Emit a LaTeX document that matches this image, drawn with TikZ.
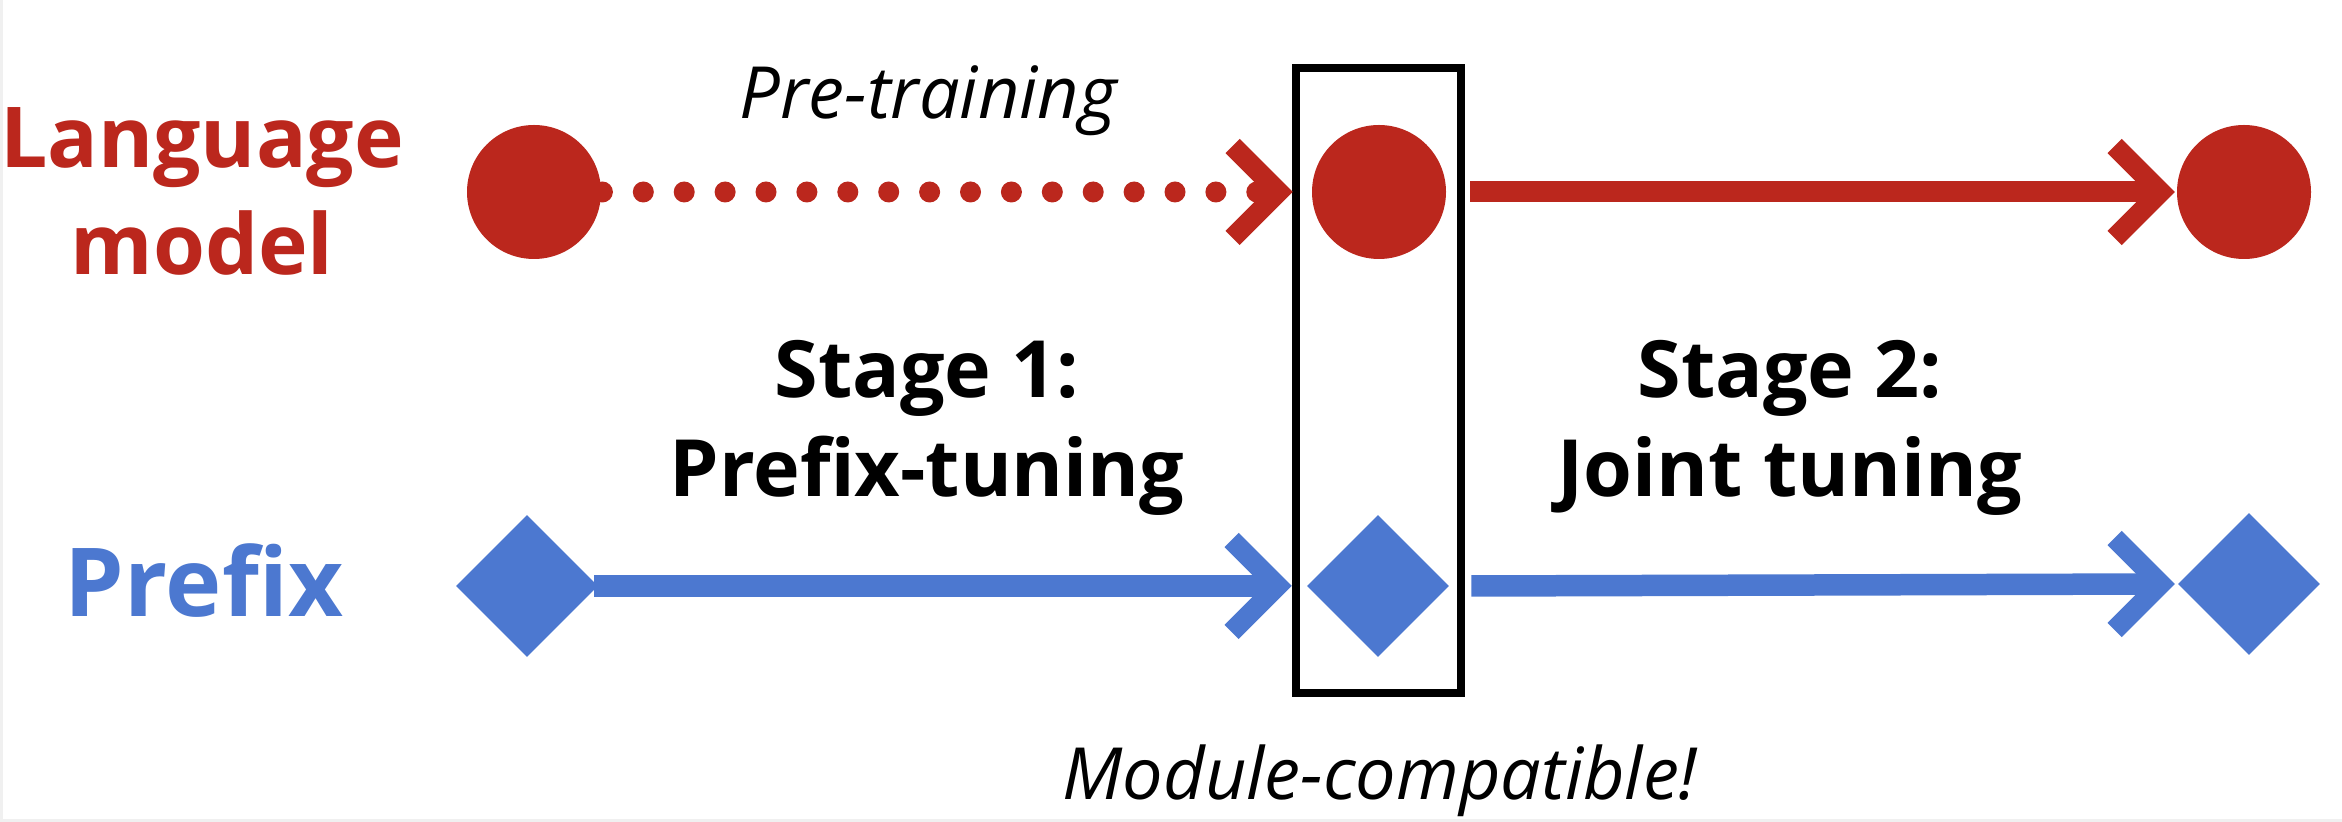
\documentclass[tikz,border=0pt]{standalone}
\usepackage{fontspec}
\setmainfont{Open Sans}
\usetikzlibrary{shapes.geometric}
\definecolor{lmred}{HTML}{BB271D}
\definecolor{pblue}{HTML}{4C78D0}
\definecolor{edgegray}{HTML}{F0F0F0}
\begin{document}
\begin{tikzpicture}[x=0.5pt,y=-0.5pt,
  lmnode/.style={circle, fill=lmred, inner sep=0pt, minimum size=67pt},
  pnode/.style={diamond, fill=pblue, inner sep=0pt, minimum width=71pt, minimum height=71pt},
  redline/.style={draw=lmred, line width=10.5pt},
  blueline/.style={draw=pblue, line width=10.75pt},
  dotline/.style={draw=lmred, line width=10.5pt, line cap=round, dash pattern=on 0pt off 20.45pt},
  chev/.style={line width=10pt, line join=miter, line cap=butt},
  framebox/.style={draw=black, line width=4pt, inner sep=0pt, minimum width=82.5pt, minimum height=312.75pt},
  boldlbl/.style={font=\bfseries\fontsize{39.5pt}{49.5pt}\selectfont, align=center, anchor=base},
  itlbl/.style={font=\itshape\fontsize{36pt}{44pt}\selectfont, anchor=base}
]
\fill[edgegray] (0,0) rectangle (2342,822);
\fill[white] (3,0) rectangle (2342,819);
\useasboundingbox (0,0) rectangle (2342,822);

% nodes
\node[lmnode] (lm1) at (534,192) {};
\node[lmnode] (lm2) at (1379,192) {};
\node[lmnode] (lm3) at (2244,192) {};
\node[pnode] (p1) at (527,586) {};
\node[pnode] (p2) at (1378,586) {};
\node[pnode] (p3) at (2249,584) {};
\node[framebox] (box) at (1378.5,380.75) {};

% labels (base anchor = baseline of last line)
\node[font=\bfseries\fontsize{42pt}{53.5pt}\selectfont, text=lmred, align=center, anchor=base] (lmlabel) at (202,275) {Language\\model};
\node[font=\bfseries\fontsize{47.6pt}{57pt}\selectfont, text=pblue, anchor=base] (plabel) at (204,617) {Prefix};
\node[itlbl] (pretrain) at (928,119) {Pre-training};
\node[boldlbl] (stage1) at (927,497) {Stage 1:\\Prefix-tuning};
\node[boldlbl] (stage2) at (1790,497) {Stage 2:\\Joint tuning};
\node[itlbl] (modcomp) at (1380,800) {Module-compatible!};

% red connectors
\draw[dotline] ([shift={(1,0)}]lm1.east) -- ([shift={(-36,0)}]lm2.west);
\draw[chev, draw=lmred] ([shift={(-79,-46)}]lm2.west) -- ([shift={(-33,0)}]lm2.west) -- ([shift={(-79,46)}]lm2.west);
\draw[redline] ([shift={(24,0)}]lm2.east) -- ([shift={(-16,0)}]lm3.west);
\draw[chev, draw=lmred] ([shift={(-62,-46)}]lm3.west) -- ([shift={(-16,0)}]lm3.west) -- ([shift={(-62,46)}]lm3.west);

% blue connectors
\draw[blueline] ([shift={(-4,0)}]p1.east) -- ([shift={(-29,0)}]p2.west);
\draw[chev, draw=pblue] ([shift={(-75,-46)}]p2.west) -- ([shift={(-29,0)}]p2.west) -- ([shift={(-75,46)}]p2.west);
\draw[blueline] ([shift={(22,0)}]p2.east) -- ([shift={(-17,0)}]p3.west);
\draw[chev, draw=pblue] ([shift={(-63,-46)}]p3.west) -- ([shift={(-17,0)}]p3.west) -- ([shift={(-63,46)}]p3.west);
\end{tikzpicture}
\end{document}
